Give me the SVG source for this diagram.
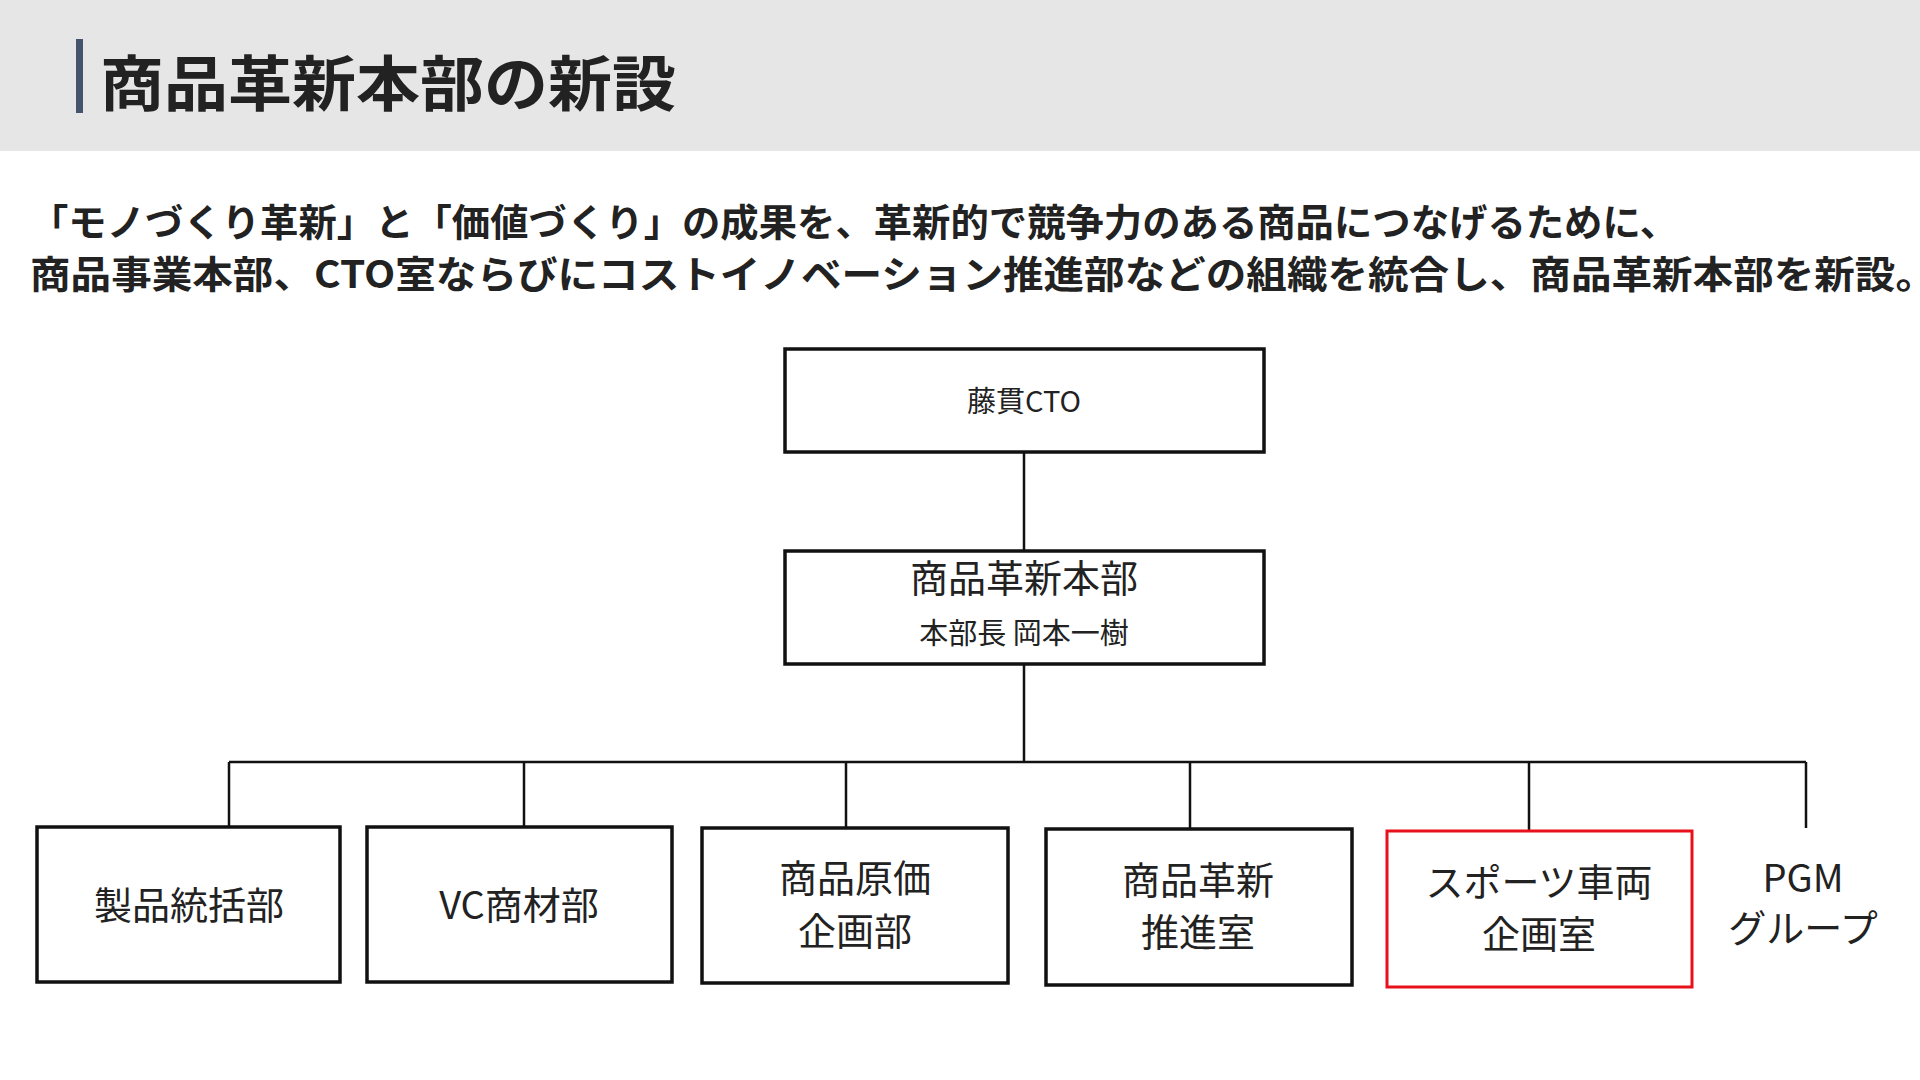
<svg xmlns="http://www.w3.org/2000/svg" width="1920" height="1080" viewBox="0 0 1920 1080">
<style>
text{font-family:"Noto Sans CJK JP","Noto Sans",sans-serif;fill:#222}
.b{fill:#fff;stroke:#111;stroke-width:3.5}
.r{fill:#fff;stroke:#e8101a;stroke-width:3}
.c{stroke:#111;stroke-width:2.5;fill:none}
.n{font-size:38px;text-anchor:middle}
</style>
<rect x="0" y="0" width="1920" height="151" fill="#e6e6e6"/>
<rect x="76" y="39" width="7" height="74" fill="#44546a"/>
<text x="100" y="106" font-size="60" font-weight="bold" fill="#333" textLength="576" lengthAdjust="spacingAndGlyphs">商品革新本部の新設</text>
<text x="30" y="236" font-size="38" font-weight="bold" textLength="1648" lengthAdjust="spacingAndGlyphs">「モノづくり革新」と「価値づくり」の成果を、革新的で競争力のある商品につなげるために、</text>
<text x="30" y="288" font-size="38" font-weight="bold" textLength="1906" lengthAdjust="spacingAndGlyphs">商品事業本部、CTO室ならびにコストイノベーション推進部などの組織を統合し、商品革新本部を新設。</text>
<g id="connectors" class="c">
<path d="M1024 452V551M1024 664V762M229 762H1806M229 762V827M524 762V827M846 762V828M1190 762V829M1529 762V831M1806 762V828"/>
</g>
<g id="cto"><rect class="b" x="785" y="349" width="479" height="103"/><text x="1024" y="412" font-size="29" text-anchor="middle">藤貫CTO</text></g>
<g id="hq"><rect class="b" x="785" y="551" width="479" height="113"/><text class="n" x="1024" y="592">商品革新本部</text><text x="1024" y="644" font-size="29" text-anchor="middle">本部長 岡本一樹</text></g>
<g id="n1"><rect class="b" x="37" y="827" width="303" height="155"/><text class="n" x="189" y="919">製品統括部</text></g>
<g id="n2"><rect class="b" x="367" y="827" width="305" height="155"/><text class="n" x="519" y="919">VC商材部</text></g>
<g id="n3"><rect class="b" x="702" y="828" width="306" height="155"/><text class="n" x="855" y="892">商品原価</text><text class="n" x="855" y="945">企画部</text></g>
<g id="n4"><rect class="b" x="1046" y="829" width="306" height="156"/><text class="n" x="1198" y="894">商品革新</text><text class="n" x="1198" y="946">推進室</text></g>
<g id="n5"><rect class="r" x="1387" y="831" width="305" height="156"/><text class="n" x="1539" y="896">スポーツ車両</text><text class="n" x="1539" y="948">企画室</text></g>
<g id="n6"><text class="n" x="1803" y="892">PGM</text><text class="n" x="1803" y="942">グループ</text></g>
</svg>
